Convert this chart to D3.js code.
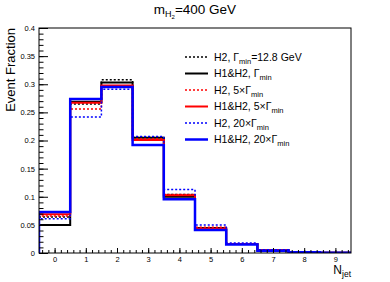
<!DOCTYPE html>
<html lang="en">
<head>
  <meta charset="UTF-8">
  <title>Njet event fraction, mH2 = 400 GeV</title>
  <script src="https://d3js.org/d3.v7.min.js"></script>
  <style>
    body { margin: 0; background: #fff; }
    svg { display: block; font-family: 'Liberation Sans', Arial, sans-serif; }
  </style>
</head>
<body>
  <div id="chart"></div>
  <script>
    // jet multiplicity bins
    const nJet = [0, 1, 2, 3, 4, 5, 6, 7, 8, 9];

    // event fractions per bin
    const h2Gmin     = [0.064, 0.265, 0.308, 0.206, 0.104, 0.045, 0.016, 0.005, 0.0015, 0.0005];
    const h1h2Gmin   = [0.050, 0.269, 0.303, 0.205, 0.100, 0.044, 0.016, 0.005, 0.0015, 0.0005];
    const h2G5       = [0.066, 0.256, 0.296, 0.203, 0.104, 0.046, 0.016, 0.005, 0.0015, 0.0005];
    const h1h2G5     = [0.069, 0.267, 0.298, 0.201, 0.1025, 0.043, 0.016, 0.005, 0.0015, 0.0005];
    const h2G20      = [0.061, 0.242, 0.291, 0.207, 0.113, 0.050, 0.018, 0.006, 0.002, 0.0006];
    const h1h2G20    = [0.073, 0.274, 0.295, 0.192, 0.0955, 0.041, 0.015, 0.004, 0.0015, 0.0005];

    const yTicks = [0, 0.05, 0.1, 0.15, 0.2, 0.25, 0.3, 0.35, 0.4];

    // legend entries: label pieces [main, subscript, tail]
    const series = [
      { values: h2Gmin,   color: "#000000", dash: "2,2", width: 1.5, label: ["H2, Γ", "min", "=12.8 GeV"] },
      { values: h1h2Gmin, color: "#000000", dash: null,  width: 2,   label: ["H1&H2, Γ", "min", ""] },
      { values: h2G5,     color: "#ff0000", dash: "2,2", width: 1.5, label: ["H2, 5×Γ", "min", ""] },
      { values: h1h2G5,   color: "#ff0000", dash: null,  width: 2,   label: ["H1&H2, 5×Γ", "min", ""] },
      { values: h2G20,    color: "#0000ff", dash: "2,2", width: 1.5, label: ["H2, 20×Γ", "min", ""] },
      { values: h1h2G20,  color: "#0000ff", dash: null,  width: 2.5, label: ["H1&H2, 20×Γ", "min", ""] }
    ];

    const W = 390, H = 282;
    const margin = { top: 28, right: 39, bottom: 29, left: 39 };
    const width = W - margin.left - margin.right;
    const height = H - margin.top - margin.bottom;

    const svg = d3.select("#chart").append("svg")
      .attr("width", W).attr("height", H);

    const g = svg.append("g")
      .attr("transform", `translate(${margin.left},${margin.top})`);

    const x = d3.scaleLinear().domain([-0.5, 9.5]).range([0, width]);
    const y = d3.scaleLinear().domain([0, 0.4]).range([height, 0]);

    svg.append("clipPath").attr("id", "frame-clip")
      .append("rect").attr("width", width).attr("height", height);

    // histograms as step outlines
    const plot = g.append("g").attr("clip-path", "url(#frame-clip)");
    series.forEach(s => {
      const pts = [[x(-0.5), y(0)]];
      nJet.forEach((n, i) => {
        pts.push([x(n - 0.5), y(s.values[i])]);
        pts.push([x(n + 0.5), y(s.values[i])]);
      });
      pts.push([x(9.5), y(0)]);
      plot.append("path")
        .attr("d", d3.line()(pts))
        .attr("fill", "none")
        .attr("stroke", s.color)
        .attr("stroke-width", s.width)
        .attr("stroke-dasharray", s.dash);
    });

    // frame
    g.append("rect")
      .attr("width", width).attr("height", height)
      .attr("fill", "none").attr("stroke", "#000").attr("stroke-width", 1);

    // y axis, ticks pointing inward
    const yMinor = d3.range(0, 0.4001, 0.01);
    g.append("g")
      .call(d3.axisLeft(y).tickValues(yMinor).tickSize(-4.5).tickFormat(""))
      .call(a => a.select(".domain").remove());
    g.append("g")
      .call(d3.axisLeft(y).tickValues(yTicks).tickSize(-9).tickPadding(4)
        .tickFormat(d => String(+d.toFixed(2))))
      .call(a => a.select(".domain").remove())
      .call(a => a.selectAll("text").style("font-size", "7.5px").attr("fill", "#000"));

    // x axis
    const xMinor = d3.range(-0.4, 9.5, 0.2);
    g.append("g").attr("transform", `translate(0,${height})`)
      .call(d3.axisBottom(x).tickValues(xMinor).tickSize(-3).tickFormat(""))
      .call(a => a.select(".domain").remove());
    g.append("g").attr("transform", `translate(0,${height})`)
      .call(d3.axisBottom(x).tickValues(nJet).tickSize(-5).tickPadding(3.5).tickFormat(d3.format("d")))
      .call(a => a.select(".domain").remove())
      .call(a => a.selectAll("text").style("font-size", "7.5px").attr("fill", "#000"));

    // title
    const title = svg.append("text")
      .attr("x", W / 2).attr("y", 14)
      .attr("text-anchor", "middle")
      .style("font-size", "13.5px");
    title.append("tspan").text("m");
    title.append("tspan").attr("dy", 3).style("font-size", "9px").text("H");
    title.append("tspan").attr("dy", 2).style("font-size", "6px").text("2");
    title.append("tspan").attr("dy", -5).text("=400 GeV");

    // axis titles
    svg.append("text")
      .attr("transform", `translate(15,${margin.top}) rotate(-90)`)
      .attr("text-anchor", "end")
      .style("font-size", "13px")
      .text("Event Fraction");

    const xt = svg.append("text")
      .attr("x", margin.left + width).attr("y", 273.5)
      .attr("text-anchor", "end")
      .style("font-size", "12px");
    xt.append("tspan").text("N");
    xt.append("tspan").attr("dy", 3.5).style("font-size", "8.5px").text("jet");

    // legend
    const leg = svg.append("g").attr("transform", "translate(185,57)");
    series.forEach((s, i) => {
      const row = leg.append("g").attr("transform", `translate(0,${i * 16.5})`);
      row.append("line")
        .attr("x1", 0).attr("x2", 23)
        .attr("stroke", s.color)
        .attr("stroke-width", s.width)
        .attr("stroke-dasharray", s.dash);
      const t = row.append("text")
        .attr("x", 29).attr("y", 3.5)
        .style("font-size", "10.5px");
      t.append("tspan").text(s.label[0]);
      t.append("tspan").attr("dy", 3).style("font-size", "7.5px").text(s.label[1]);
      if (s.label[2]) t.append("tspan").attr("dy", -3).text(s.label[2]);
    });
  </script>
</body>
</html>
